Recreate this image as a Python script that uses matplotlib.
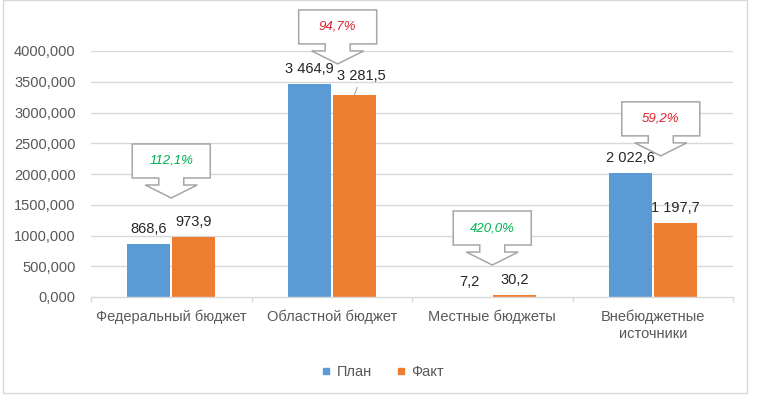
import matplotlib
matplotlib.use('Agg')
import matplotlib.pyplot as plt
import matplotlib.patches as mpatches
import matplotlib.transforms as mtransforms
from matplotlib.lines import Line2D
import numpy as np

# ---------------- data ----------------
categories = ['Федеральный бюджет', 'Областной бюджет', 'Местные бюджеты', 'Внебюджетные\nисточники']
series_names = ['План', 'Факт']
plan = [868.6, 3464.9, 7.2, 2022.6]
fact = [973.9, 3281.5, 30.2, 1197.7]
plan_labels = ['868,6', '3 464,9', '7,2', '2 022,6']
fact_labels = ['973,9', '3 281,5', '30,2', '1 197,7']
execution = [112.1, 94.7, 420.0, 59.2]
execution_labels = ['112,1%', '94,7%', '420,0%', '59,2%']
yticks = [0, 500, 1000, 1500, 2000, 2500, 3000, 3500, 4000]
ytick_labels = ['0,000', '500,000', '1000,000', '1500,000', '2000,000',
                '2500,000', '3000,000', '3500,000', '4000,000']

# ---------------- layout ----------------
callout_tip_y = [1610, 3790, 520, 2295]
callout_dx = [0.0, 0.037, 0.0, 0.05]

PLAN_C = '#5B9BD5'
FACT_C = '#ED7D31'
GRID_C = '#D9D9D9'
TXT_C = '#595959'
LBL_C = '#262626'
GREEN = '#00B050'
RED = '#E0202A'

plt.rcParams['font.family'] = ['Liberation Sans', 'DejaVu Sans']

W, H = 757, 397
fig = plt.figure(figsize=(W / 100, H / 100), dpi=100)
ax = fig.add_axes([91 / W, 1 - 297 / H, (733 - 91) / W, (297 - 51) / H])

x = np.arange(len(categories))
bw = 0.268
off = 0.14
ax.bar(x - off, plan, bw, color=PLAN_C, zorder=3)
ax.bar(x + off, fact, bw, color=FACT_C, zorder=3)

ax.set_xlim(-0.5, len(categories) - 0.5)
ax.set_ylim(0, 4000)
ax.set_yticks(yticks)
ax.set_yticklabels(ytick_labels)
ax.tick_params(axis='y', length=0, pad=11, labelsize=10.5, labelcolor=TXT_C)
for yv in yticks[1:]:
    ax.axhline(yv, color=GRID_C, lw=1.0, zorder=1)

ax.set_xticks(x)
ax.set_xticklabels(categories, linespacing=1.25)
ax.set_xticks(np.arange(len(categories) + 1) - 0.5, minor=True)
ax.tick_params(axis='x', which='major', length=0, pad=9, labelsize=10.5, labelcolor=TXT_C)
ax.tick_params(axis='x', which='minor', length=3.6, width=1.0, color=GRID_C)

for s in ['top', 'right', 'left']:
    ax.spines[s].set_visible(False)
ax.spines['bottom'].set_color(GRID_C)
ax.spines['bottom'].set_linewidth(1.0)
ax.spines['bottom'].set_zorder(4)

px2pt = 0.72

# data labels
for i in range(len(categories)):
    ax.annotate(plan_labels[i], xy=(x[i] - off, plan[i]), xytext=(0, 15 * px2pt),
                textcoords='offset points', ha='center', va='center',
                fontsize=10.5, color=LBL_C, zorder=5)
    if i == 1:
        ax.annotate(fact_labels[i], xy=(x[i] + off, fact[i]), xytext=(7 * px2pt, 19 * px2pt),
                    textcoords='offset points', ha='center', va='center',
                    fontsize=10.5, color=LBL_C, zorder=5,
                    arrowprops=dict(arrowstyle='-', color='#A6A6A6', lw=0.8,
                                    shrinkA=1, shrinkB=0, relpos=(0.45, 0.0)))
    else:
        ax.annotate(fact_labels[i], xy=(x[i] + off, fact[i]), xytext=(0, 15 * px2pt),
                    textcoords='offset points', ha='center', va='center',
                    fontsize=10.5, color=LBL_C, zorder=5)

# callouts
hw, nh, hh = 39, 12.5, 26
head, neck, box = 13, 7, 34
verts = [(0, 0), (hh, head), (nh, head), (nh, head + neck), (hw, head + neck),
         (hw, head + neck + box), (-hw, head + neck + box), (-hw, head + neck),
         (-nh, head + neck), (-nh, head), (-hh, head)]
for i in range(len(categories)):
    tx, ty = x[i] + callout_dx[i], callout_tip_y[i]
    px, py = ax.transData.transform((tx, ty))
    tr = mtransforms.Affine2D().translate(px, py)
    poly = mpatches.Polygon(verts, closed=True, transform=tr, facecolor='white',
                            edgecolor='#A6A6A6', lw=1.1, zorder=6, clip_on=False)
    ax.add_patch(poly)
    col = GREEN if execution[i] >= 100 else RED
    ax.annotate(execution_labels[i], xy=(tx, ty),
                xytext=(0, (head + neck + box / 2) * px2pt), textcoords='offset points',
                ha='center', va='center', fontsize=9.5, style='italic',
                color=col, zorder=7, annotation_clip=False)

# legend
handles = [Line2D([0], [0], marker='s', linestyle='none', markersize=5,
                  markerfacecolor=c, markeredgecolor=c) for c in (PLAN_C, FACT_C)]
fig.legend(handles, series_names, loc='center', ncol=2, frameon=False,
           bbox_to_anchor=(382 / W, (H - 372) / H), bbox_transform=fig.transFigure,
           fontsize=10.5, labelcolor=TXT_C, handlelength=0.8, handletextpad=0.3,
           columnspacing=1.6)

# outer border
fig.patches.append(mpatches.Rectangle((3 / W, 4 / H), (747 - 3) / W, (H - 4) / H,
                                      transform=fig.transFigure, fill=False,
                                      edgecolor=GRID_C, lw=1.0))

fig.savefig('out.png', dpi=100, facecolor='white')
